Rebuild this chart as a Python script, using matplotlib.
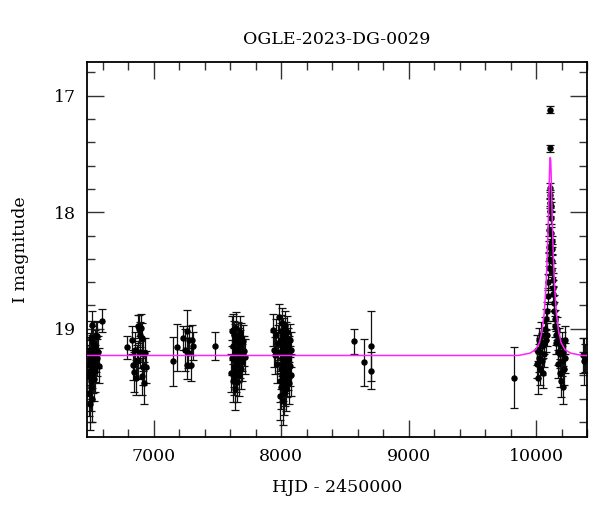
import matplotlib
matplotlib.use("Agg")
import matplotlib.pyplot as plt
from matplotlib.ticker import MultipleLocator
import numpy as np

title = "OGLE-2023-DG-0029"
xlabel = "HJD - 2450000"
ylabel = "I magnitude"

# ---- photometry: (HJD-2450000, I mag, error) ----
hjd_a = [6487, 6490, 6492, 6494, 6496, 6498, 6500, 6502, 6504, 6506, 6508, 6510,
         6512, 6514, 6516, 6518, 6520, 6522, 6525, 6528, 6531, 6534, 6537, 6540,
         6544, 6548, 6552, 6557, 6562, 6568, 6590]
mag_a = [19.22, 19.40, 19.31, 19.55, 19.18, 19.65, 19.36, 19.26, 19.45, 19.08, 19.50, 19.20,
         18.97, 19.33, 19.60, 19.24, 19.38, 19.12, 19.28, 19.43, 19.19, 19.30, 19.15, 19.36,
         19.06, 19.22, 19.25, 19.06, 19.20, 19.32, 18.93]
err_a = [0.15, 0.18, 0.17, 0.20, 0.14, 0.22, 0.19, 0.16, 0.17, 0.15, 0.21, 0.15,
         0.12, 0.18, 0.20, 0.16, 0.17, 0.14, 0.15, 0.19, 0.15, 0.16, 0.14, 0.18,
         0.12, 0.15, 0.16, 0.13, 0.14, 0.15, 0.10]

hjd_b = [6790, 6830, 6838, 6845, 6851, 6858, 6865, 6872, 6877, 6882, 6888, 6893,
         6898, 6903, 6908, 6913, 6918, 6924, 6930, 6938]
mag_b = [19.16, 19.10, 19.31, 19.37, 19.18, 19.42, 19.28, 18.98, 19.27, 19.00, 19.20, 19.05,
         18.99, 19.41, 19.08, 19.22, 19.33, 19.47, 19.21, 19.33]
err_b = [0.10, 0.12, 0.13, 0.17, 0.15, 0.15, 0.14, 0.10, 0.16, 0.12, 0.14, 0.11,
         0.12, 0.16, 0.13, 0.14, 0.15, 0.18, 0.13, 0.14]

hjd_c = [7147, 7183, 7230, 7245, 7256, 7262, 7270, 7278, 7290, 7301, 7310, 7479]
mag_c = [19.28, 19.16, 19.08, 19.18, 19.02, 19.31, 19.21, 19.10, 19.31, 19.10, 19.15, 19.15]
err_c = [0.21, 0.20, 0.10, 0.18, 0.18, 0.12, 0.13, 0.12, 0.14, 0.13, 0.12, 0.12]

hjd_e = [7605, 7610, 7614, 7618, 7620, 7623, 7626, 7628, 7631, 7634, 7636, 7639,
         7642, 7645, 7648, 7651, 7654, 7657, 7660, 7663, 7666, 7669, 7672, 7675,
         7678, 7682, 7686, 7690, 7695, 7700, 7706, 7712]
mag_e = [19.38, 19.02, 19.25, 19.45, 19.01, 19.15, 19.33, 19.05, 19.41, 19.20, 19.52, 19.10,
         19.28, 18.99, 19.37, 19.18, 19.46, 19.08, 19.23, 19.31, 19.12, 19.40, 19.03, 19.26,
         19.15, 19.35, 19.07, 19.21, 19.29, 19.11, 19.19, 19.24]
err_e = [0.16, 0.13, 0.15, 0.18, 0.14, 0.15, 0.17, 0.12, 0.16, 0.15, 0.18, 0.14,
         0.16, 0.13, 0.17, 0.15, 0.17, 0.14, 0.16, 0.15, 0.13, 0.18, 0.14, 0.16,
         0.14, 0.17, 0.12, 0.15, 0.16, 0.14, 0.13, 0.15]

hjd_f = [7936, 7944, 7950, 7960, 7970, 7978, 7985, 7988, 7990, 7992, 7994, 7996,
         7998, 8000, 8002, 8004, 8006, 8008, 8010, 8012, 8014, 8016, 8018, 8020,
         8022, 8024, 8026, 8028, 8030, 8032, 8034, 8036, 8038, 8040, 8043, 8046,
         8049, 8052, 8055, 8058, 8062, 8066, 8070, 8075, 8080]
mag_f = [19.01, 19.18, 19.23, 19.05, 19.30, 19.12, 18.90, 19.45, 19.20, 19.58, 19.02, 19.35,
         19.10, 19.50, 19.25, 18.95, 19.40, 19.15, 19.62, 19.30, 19.05, 19.44, 19.20, 19.55,
         19.12, 19.33, 18.98, 19.48, 19.23, 19.38, 19.08, 19.28, 19.52, 19.17, 19.42, 19.03,
         19.26, 19.36, 19.14, 19.47, 19.22, 19.10, 19.32, 19.18, 19.40]
err_f = [0.14, 0.15, 0.16, 0.13, 0.17, 0.15, 0.11, 0.18, 0.16, 0.20, 0.14, 0.17,
         0.15, 0.19, 0.16, 0.13, 0.18, 0.15, 0.21, 0.17, 0.14, 0.18, 0.16, 0.19,
         0.15, 0.17, 0.13, 0.18, 0.16, 0.17, 0.14, 0.16, 0.19, 0.15, 0.17, 0.14,
         0.16, 0.17, 0.15, 0.18, 0.16, 0.14, 0.17, 0.15, 0.18]

hjd_g = [8570, 8648, 8706, 8708, 9828]
mag_g = [19.11, 19.29, 19.15, 19.36, 19.42]
err_g = [0.11, 0.20, 0.30, 0.16, 0.26]

hjd_i = [10005, 10010, 10015, 10020, 10025, 10030, 10035, 10040, 10045, 10050, 10055, 10060,
         10065, 10070, 10075, 10080, 10085,
         10088, 10092, 10095, 10098, 10100, 10102, 10104, 10106, 10107, 10108, 10109, 10110,
         10112, 10116, 10118, 10120, 10122, 10124, 10126, 10128, 10130, 10133, 10136, 10140,
         10144, 10148, 10152, 10156, 10160, 10165, 10170, 10175, 10180, 10185, 10190, 10195,
         10200, 10205, 10210, 10215, 10220, 10225, 10230, 10370, 10380, 10388]
mag_i = [19.30, 19.18, 19.42, 19.25, 19.10, 19.35, 19.20, 19.05, 19.28, 19.15, 19.38, 19.12,
         19.22, 19.00, 19.10, 18.92, 19.05,
         18.85, 18.72, 18.60, 18.48, 18.40, 18.30, 18.15, 17.99, 17.92, 17.79, 17.85, 17.12,
         17.45, 17.95, 18.05, 18.18, 18.32, 18.25, 18.42, 18.50, 18.58, 18.65, 18.70, 18.78,
         18.85, 18.92, 18.98, 19.05, 19.12, 19.00, 19.20, 19.30, 19.10, 19.38, 19.22, 19.45,
         19.15, 19.28, 19.50, 19.20, 19.35, 19.10, 19.25, 19.23, 19.28, 19.25]
err_i = [0.12, 0.13, 0.14, 0.12, 0.11, 0.13, 0.12, 0.11, 0.12, 0.11, 0.13, 0.10,
         0.11, 0.10, 0.10, 0.09, 0.10,
         0.08, 0.07, 0.07, 0.06, 0.06, 0.05, 0.05, 0.04, 0.04, 0.04, 0.04, 0.03,
         0.03, 0.04, 0.05, 0.05, 0.05, 0.05, 0.06, 0.06, 0.06, 0.07, 0.07, 0.07,
         0.08, 0.08, 0.09, 0.09, 0.10, 0.10, 0.11, 0.12, 0.11, 0.12, 0.12, 0.14,
         0.12, 0.13, 0.15, 0.12, 0.13, 0.12, 0.13, 0.15, 0.20, 0.12]

# ---- model light curve (magenta) ----
model_t = [6470, 9862, 9952, 9997, 10027, 10047, 10064, 10078, 10088, 10096, 10102,
           10106, 10109, 10112, 10115, 10118, 10122, 10128, 10136, 10146, 10160,
           10177, 10197, 10227, 10272, 10362, 10410]
model_m = [19.23, 19.23, 19.21, 19.18, 19.12, 19.02, 18.87, 18.64, 18.38, 18.09, 17.82,
           17.65, 17.55, 17.53, 17.55, 17.65, 17.82, 18.09, 18.38, 18.64, 18.87,
           19.02, 19.12, 19.18, 19.21, 19.23, 19.23]

xlim = (6477, 10400)
ylim = (19.93, 16.71)

plt.rcParams['font.family'] = ['DejaVu Serif']
plt.rcParams['font.size'] = 12

fig = plt.figure(figsize=(6.0, 5.12), dpi=100)
ax = fig.add_axes([0.1455, 0.1465, 0.8328, 0.7324])

hjd = hjd_a + hjd_b + hjd_c + hjd_e + hjd_f + hjd_g + hjd_i
mag = mag_a + mag_b + mag_c + mag_e + mag_f + mag_g + mag_i
err = err_a + err_b + err_c + err_e + err_f + err_g + err_i

ax.errorbar(hjd, mag, yerr=err, fmt='o', color='black', ms=3.6,
            ecolor='#111111', elinewidth=0.9, capsize=2.6, capthick=0.9, zorder=2)
ax.plot(model_t, model_m, color='#ff22ff', lw=1.1, zorder=3)

ax.set_xlim(*xlim)
ax.set_ylim(*ylim)
ax.xaxis.set_major_locator(MultipleLocator(1000))
ax.xaxis.set_minor_locator(MultipleLocator(200))
ax.yaxis.set_major_locator(MultipleLocator(1))
ax.yaxis.set_minor_locator(MultipleLocator(0.2))
ax.tick_params(which='both', direction='in', top=True, right=True, color='#333333')
ax.tick_params(which='major', length=12, width=1.0, pad=8, labelsize=12.5)
ax.tick_params(which='minor', length=6, width=1.0)
for s in ax.spines.values():
    s.set_linewidth(1.3)

ax.set_title(title, fontsize=12.5, pad=13)
ax.set_xlabel(xlabel, fontsize=12.5, labelpad=10)
ax.set_ylabel(ylabel, fontsize=12.5, labelpad=18)

fig.savefig("out.png", dpi=100)
